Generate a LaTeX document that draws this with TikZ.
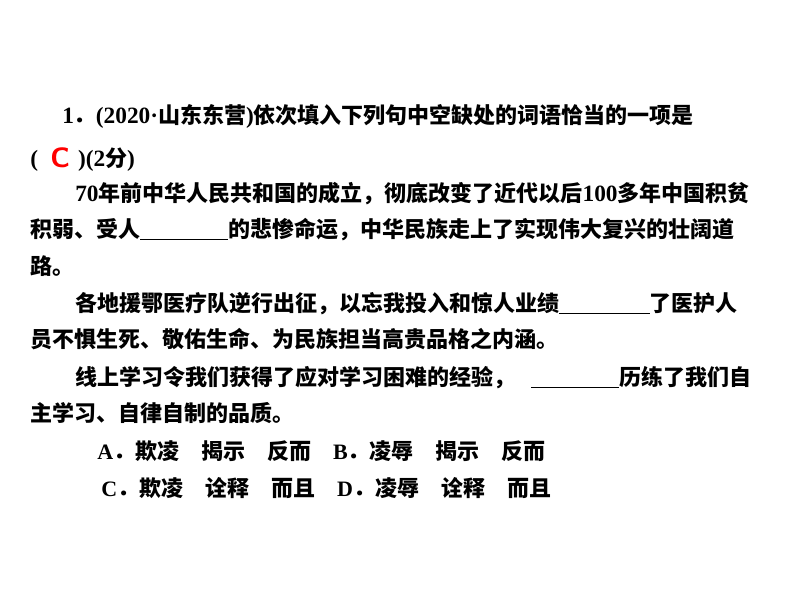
\documentclass[tikz,border=0pt]{standalone}
\usepackage{fontspec}
\setmainfont{Liberation Serif}
\newfontfamily\cjk{Noto Sans CJK SC}
\newcommand{\bl}[1]{\rule[-2.5pt]{#1pt}{0.9pt}}
\begin{document}
\begin{tikzpicture}[x=0.75pt,y=-0.75pt]
\tikzset{ln/.style={anchor=base west,inner sep=0pt,font=\fontsize{16.5pt}{18pt}\bfseries\cjk}}
\useasboundingbox (0,0) rectangle (794,596);
\node[ln] (l1) at (62,123) {{\rmfamily\bfseries\fontsize{17.5pt}{18pt}\selectfont 1}．{\rmfamily\bfseries\fontsize{17.5pt}{18pt}\selectfont(2020·}山东东营{\rmfamily\bfseries\fontsize{17.5pt}{18pt}\selectfont)}依次填入下列句中空缺处的词语恰当的一项是};
\node[ln] (l2) at (30,166) {{\rmfamily\bfseries\fontsize{17.5pt}{18pt}\selectfont(}\hspace{30pt}{\rmfamily\bfseries\fontsize{17.5pt}{18pt}\selectfont)(2}分{\rmfamily\bfseries\fontsize{17.5pt}{18pt}\selectfont)}};
\node[anchor=base west,inner sep=0pt,text=red,font=\fontsize{21pt}{22pt}\bfseries\sffamily] (c) at (50,167) {C};
\node[ln] (l3) at (75,201) {{\rmfamily\bfseries\fontsize{17.5pt}{18pt}\selectfont 70}年前中华人民共和国的成立，彻底改变了近代以后{\rmfamily\bfseries\fontsize{17.5pt}{18pt}\selectfont 100}多年中国积贫};
\node[ln] (l4) at (30,237) {积弱、受人\bl{66}的悲惨命运，中华民族走上了实现伟大复兴的壮阔道};
\node[ln] (l5) at (30,274) {路。};
\node[ln] (l6) at (75,311) {各地援鄂医疗队逆行出征，以忘我投入和惊人业绩\bl{68}了医护人};
\node[ln] (l7) at (30,347) {员不惧生死、敬佑生命、为民族担当高贵品格之内涵。};
\node[ln] (l8) at (75,385) {线上学习令我们获得了应对学习困难的经验，\hspace{12pt}\bl{66}历练了我们自};
\node[ln] (l9) at (30,421) {主学习、自律自制的品质。};
\node[ln] (l10) at (97,459) {{\rmfamily\bfseries A}．欺凌\quad 揭示\quad 反而\quad {\rmfamily\bfseries B}．凌辱\quad 揭示\quad 反而};
\node[ln] (l11) at (101,496) {{\rmfamily\bfseries C}．欺凌\quad 诠释\quad 而且\quad {\rmfamily\bfseries D}．凌辱\quad 诠释\quad 而且};
\end{tikzpicture}
\end{document}
